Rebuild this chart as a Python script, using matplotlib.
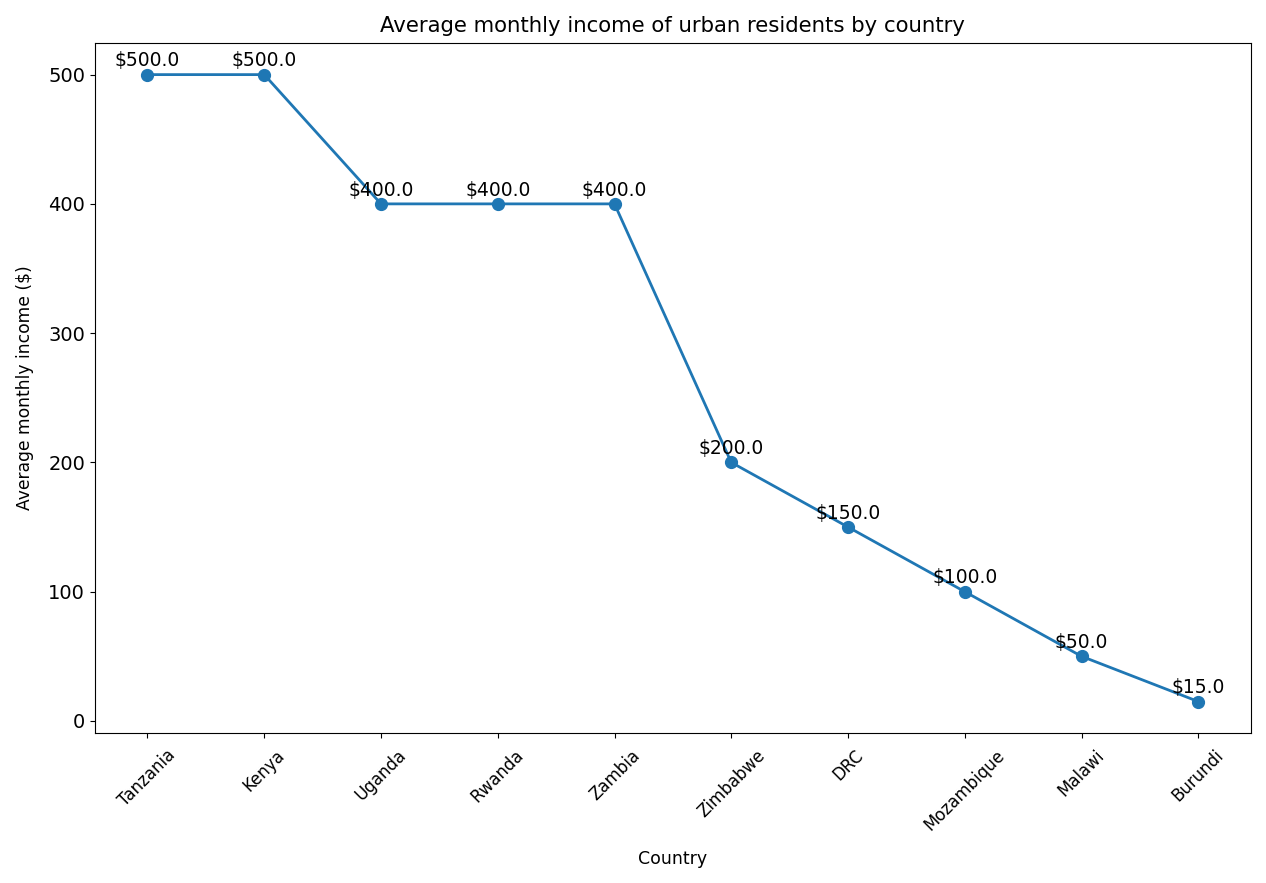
import matplotlib
matplotlib.use("Agg")
import matplotlib.pyplot as plt

countries = ["Tanzania", "Kenya", "Uganda", "Rwanda", "Zambia", "Zimbabwe", "DRC", "Mozambique", "Malawi", "Burundi"]
income = [500.0, 500.0, 400.0, 400.0, 400.0, 200.0, 150.0, 100.0, 50.0, 15.0]

plt.rcParams['font.family'] = ['DejaVu Sans']

fig = plt.figure(figsize=(12.66, 8.83), dpi=100)
ax = fig.add_axes([0.075, 0.170, 0.913, 0.781])
x = list(range(len(countries)))
ax.plot(x, income, marker='o', color='#1f77b4', linewidth=2, markersize=8.5)
for xi, v in zip(x, income):
    ax.annotate(f"${v:.1f}", (xi, v), textcoords="offset points", xytext=(0, 6),
                ha='center', fontsize=13.5)
ax.set_xticks(x)
ax.set_xticklabels(countries, rotation=45, fontsize=12)
ax.tick_params(axis='x', pad=6)
ax.tick_params(axis='y', labelsize=14)
ax.set_title("Average monthly income of urban residents by country", fontsize=15.3, pad=8)
ax.set_xlabel("Country", fontsize=12.5, labelpad=12)
ax.set_ylabel("Average monthly income ($)", fontsize=12.3, labelpad=10)
fig.savefig("out.png", dpi=100)
